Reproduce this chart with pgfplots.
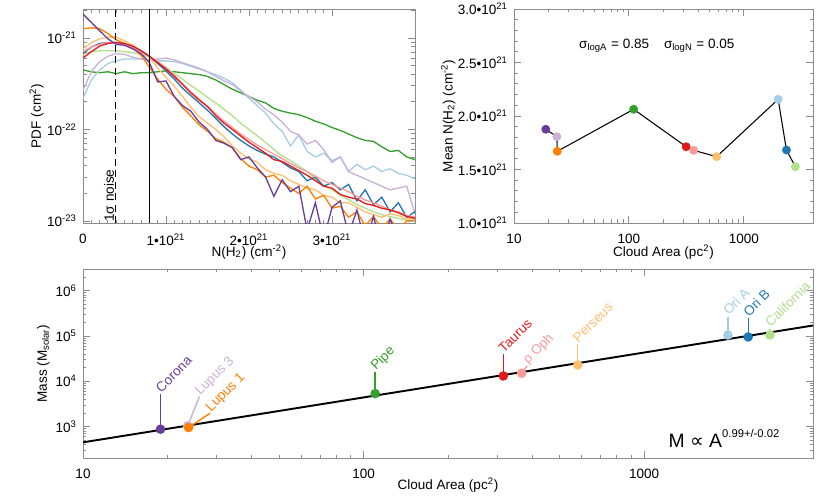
\documentclass[border=0pt]{standalone}
\usepackage{fontspec}
\setmainfont{Liberation Sans}
\newfontfamily\dejavu{DejaVu Sans}
\usepackage{pgfplots}
\usepackage{pgfplotstable}
\pgfplotsset{compat=1.18}

\definecolor{cPur}{HTML}{6A3D9A}
\definecolor{cLav}{HTML}{CAB2D6}
\definecolor{cOra}{HTML}{FF7F00}
\definecolor{cGrn}{HTML}{33A02C}
\definecolor{cRed}{HTML}{E31A1C}
\definecolor{cPnk}{HTML}{FB9A99}
\definecolor{cPch}{HTML}{FDBF6F}
\definecolor{cLbl}{HTML}{A6CEE3}
\definecolor{cBlu}{HTML}{1F78B4}
\definecolor{cLgr}{HTML}{B2DF8A}
\definecolor{framegray}{HTML}{8C8C8C}

\newcommand\fs{\fontsize{7.7}{9}\selectfont}

% column density PDFs, N in units of 1e21 cm^-2
\pgfplotstableread{
N   pur      lav      ora      grn      red      pnk      pch      lbl      blu      lgr
0.0 1.82e-21 2.69e-22 1.26e-21 4.47e-22 6.03e-22 7.08e-22 7.59e-22 2.19e-22 6.76e-22 6.61e-22
0.1 1.48e-21 4.27e-22 1.29e-21 4.27e-22 7.08e-22 7.94e-22 8.91e-22 3.47e-22 7.94e-22 7.08e-22
0.2 1.20e-21 5.50e-22 1.26e-21 4.17e-22 8.13e-22 8.51e-22 9.77e-22 4.47e-22 8.71e-22 7.24e-22
0.3 9.77e-22 6.31e-22 1.12e-21 4.27e-22 8.71e-22 8.91e-22 1.02e-21 5.25e-22 8.91e-22 7.24e-22
0.4 8.51e-22 6.76e-22 9.55e-22 4.07e-22 8.91e-22 8.91e-22 1.02e-21 5.62e-22 8.91e-22 7.24e-22
0.5 8.32e-22 6.61e-22 8.71e-22 4.27e-22 8.71e-22 8.51e-22 9.33e-22 5.89e-22 8.51e-22 7.08e-22
0.6 7.59e-22 6.17e-22 7.76e-22 4.07e-22 8.13e-22 7.94e-22 8.32e-22 5.89e-22 7.94e-22 6.92e-22
0.7 6.76e-22 5.89e-22 6.46e-22 4.17e-22 7.24e-22 7.08e-22 7.24e-22 5.89e-22 7.24e-22 6.61e-22
0.8 5.37e-22 5.75e-22 4.79e-22 4.17e-22 6.31e-22 6.31e-22 6.17e-22 5.75e-22 6.31e-22 6.17e-22
0.9 3.31e-22 5.89e-22 3.55e-22 4.27e-22 5.37e-22 5.50e-22 4.68e-22 5.62e-22 5.25e-22 5.50e-22
1.0 3.39e-22 6.03e-22 2.75e-22 4.37e-22 4.57e-22 4.68e-22 3.72e-22 5.62e-22 4.37e-22 4.79e-22
1.1 2.29e-22 5.75e-22 2.29e-22 4.27e-22 3.80e-22 3.89e-22 2.95e-22 5.50e-22 3.55e-22 4.07e-22
1.2 1.82e-22 5.37e-22 1.74e-22 4.17e-22 3.09e-22 3.16e-22 2.29e-22 5.25e-22 2.82e-22 3.55e-22
1.3 1.58e-22 5.01e-22 1.41e-22 4.07e-22 2.51e-22 2.57e-22 1.74e-22 4.90e-22 2.34e-22 3.02e-22
1.4 1.20e-22 4.68e-22 1.12e-22 3.98e-22 2.09e-22 2.14e-22 1.38e-22 4.57e-22 1.95e-22 2.63e-22
1.5 1.00e-22 4.27e-22 9.55e-23 3.80e-22 1.78e-22 1.78e-22 1.17e-22 4.27e-22 1.62e-22 2.24e-22
1.6 7.59e-23 3.80e-22 7.94e-23 3.47e-22 1.41e-22 1.48e-22 1.00e-22 3.98e-22 1.32e-22 1.95e-22
1.7 7.08e-23 3.39e-22 7.24e-23 3.09e-22 1.17e-22 1.23e-22 8.32e-23 3.63e-22 1.07e-22 1.66e-22
1.8 6.31e-23 3.09e-22 6.31e-23 2.75e-22 1.00e-22 1.05e-22 6.61e-23 3.24e-22 8.91e-23 1.41e-22
1.9 4.68e-23 2.63e-22 4.79e-23 2.51e-22 8.51e-23 8.91e-23 5.50e-23 2.69e-22 7.59e-23 1.17e-22
2.0 5.01e-23 2.29e-22 3.98e-23 2.29e-22 7.24e-23 7.76e-23 4.79e-23 2.19e-22 6.61e-23 1.00e-22
2.1 3.80e-23 2.00e-22 3.63e-23 2.09e-22 6.31e-23 6.76e-23 4.37e-23 1.82e-22 5.89e-23 8.51e-23
2.2 3.02e-23 1.66e-22 3.02e-23 1.95e-22 5.50e-23 6.03e-23 3.63e-23 1.51e-22 5.37e-23 7.24e-23
2.3 1.86e-23 1.45e-22 3.16e-23 1.70e-22 4.68e-23 5.37e-23 3.31e-23 1.15e-22 5.01e-23 6.03e-23
2.4 2.82e-23 1.20e-22 2.63e-23 1.58e-22 4.47e-23 4.79e-23 3.16e-23 9.55e-23 4.37e-23 5.13e-23
2.5 2.09e-23 9.55e-23 2.29e-23 1.51e-22 3.98e-23 4.27e-23 2.75e-23 6.61e-23 3.80e-23 4.57e-23
2.6 2.40e-23 8.71e-23 2.00e-23 1.45e-22 3.55e-23 3.80e-23 2.51e-23 8.71e-23 3.47e-23 3.98e-23
2.7 7.94e-24 6.92e-23 2.40e-23 1.35e-22 3.16e-23 3.47e-23 2.29e-23 5.75e-23 2.75e-23 3.47e-23
2.8 1.58e-23 7.59e-23 1.74e-23 1.23e-22 2.75e-23 3.09e-23 2.19e-23 5.01e-23 3.02e-23 2.88e-23
2.9 6.31e-24 6.03e-23 1.91e-23 1.15e-22 2.40e-23 2.75e-23 1.91e-23 5.50e-23 2.40e-23 2.45e-23
3.0 1.41e-23 4.37e-23 1.38e-23 1.05e-22 2.29e-23 2.51e-23 1.82e-23 4.57e-23 2.63e-23 2.19e-23
3.1 1.66e-23 5.01e-23 1.45e-23 9.77e-23 1.95e-23 2.29e-23 1.58e-23 5.01e-23 2.19e-23 1.91e-23
3.2 7.08e-24 3.47e-23 1.10e-23 8.91e-23 1.82e-23 2.09e-23 1.58e-23 3.47e-23 2.51e-23 1.70e-23
3.3 1.32e-23 3.16e-23 1.26e-23 8.13e-23 1.74e-23 1.86e-23 1.41e-23 4.17e-23 1.66e-23 1.51e-23
3.4 5.62e-24 2.88e-23 8.91e-24 7.59e-23 1.55e-23 1.70e-23 1.26e-23 3.63e-23 2.19e-23 1.38e-23
3.5 1.12e-23 2.63e-23 1.12e-23 7.41e-23 1.48e-23 1.58e-23 1.17e-23 3.98e-23 1.51e-23 1.26e-23
3.6 5.01e-24 2.40e-23 8.32e-24 6.46e-23 1.38e-23 1.45e-23 1.10e-23 3.47e-23 1.82e-23 1.17e-23
3.7 1.05e-23 2.19e-23 1.05e-23 5.75e-23 1.32e-23 1.32e-23 1.20e-23 3.72e-23 1.26e-23 1.12e-23
3.8 6.31e-24 2.29e-23 7.94e-24 5.89e-23 1.23e-23 1.26e-23 1.15e-23 3.31e-23 1.58e-23 1.07e-23
3.9 8.91e-24 2.40e-23 1.00e-23 5.01e-23 1.12e-23 1.15e-23 1.05e-23 3.16e-23 1.10e-23 1.02e-23
4.0 5.01e-24 1.20e-23 1.02e-23 4.68e-23 1.07e-23 1.10e-23 1.07e-23 2.88e-23 1.26e-23 9.77e-24
}\pdftab

% cloud area (pc^2), mean N(H2) (1e21 cm^-2), mass (Msun)
\pgfplotstableread{
A    N     M
18.9 1.876 877
23.6 1.807 1035
23.8 1.670 955
110  2.063 5350
315  1.713 13100
366  1.679 15000
580  1.620 22900
1990 2.156 105000
2350 1.682 95000
2810 1.526 105000
}\cloudtab

\pgfplotsset{
  idl/.style={
    scale only axis,
    axis line style={draw=framegray, line width=0.5pt},
    tick style={draw=framegray, line width=0.5pt},
    tick align=inside,
    major tick length=0.14cm,
    minor tick length=0.07cm,
    tick label style={font=\fs},
    label style={font=\fs},
    xticklabel style={yshift=-2.6pt},
  },
  xlab/.style={xlabel style={at={([yshift=-#1]axis description cs:0.5,0)}, anchor=center}},
  ylab/.style={ylabel style={at={([xshift=-#1]axis description cs:0,0.5)}, anchor=center}},
  pt/.style={only marks, mark=*, mark size=2.3pt, mark options={draw=#1, fill=#1}},
}

\begin{document}
\begin{tikzpicture}
\path[use as bounding box] (0,0) rectangle (16.6,9.96);

% ---- column density PDFs
\begin{axis}[idl, at={(1.66cm,5.50cm)}, anchor=south west,
  width=6.64cm, height=4.28cm,
  xmin=0, xmax=4, ymode=log, ymin=9.5e-24, ymax=2.07e-21,
  xtick={0,1,2,3},
  xticklabels={0,1\textbullet10\textsuperscript{21},2\textbullet10\textsuperscript{21},3\textbullet10\textsuperscript{21}},
  minor x tick num=9,
  ytick={1e-23,1e-22,1e-21},
  minor ytick={2e-23,3e-23,4e-23,5e-23,6e-23,7e-23,8e-23,9e-23,2e-22,3e-22,4e-22,5e-22,6e-22,7e-22,8e-22,9e-22,2e-21},
  yticklabels={10\textsuperscript{-23},10\textsuperscript{-22},10\textsuperscript{-21}},
  xlabel={N(H\textsubscript{2}) (cm\textsuperscript{-2})},
  ylabel={PDF (cm\textsuperscript{2})},
  xlab=16.3pt, ylab=26.4pt,
  every axis plot/.append style={line width=0.75pt},
]
\addplot[cGrn] table[x=N, y=grn] {\pdftab};
\addplot[cLbl] table[x=N, y=lbl] {\pdftab};
\addplot[cLav] table[x=N, y=lav] {\pdftab};
\addplot[cLgr] table[x=N, y=lgr] {\pdftab};
\addplot[cPch] table[x=N, y=pch] {\pdftab};
\addplot[cOra] table[x=N, y=ora] {\pdftab};
\addplot[cBlu] table[x=N, y=blu] {\pdftab};
\addplot[cPnk] table[x=N, y=pnk] {\pdftab};
\addplot[cRed] table[x=N, y=red] {\pdftab};
\addplot[cPur] table[x=N, y=pur] {\pdftab};
\addplot[black, line width=0.9pt, dash pattern=on 4pt off 2.5pt] coordinates {(0.39,9.5e-24) (0.39,2.07e-21)};
\addplot[black, line width=0.75pt] coordinates {(0.8,9.5e-24) (0.8,2.07e-21)};
\node[rotate=90, anchor=south west, inner sep=0.6pt, font=\fs] at (axis cs:0.39,9.5e-24) {1σ noise};
\end{axis}

% ---- mean column density vs area
\begin{axis}[idl, at={(10.28cm,5.50cm)}, anchor=south west,
  width=5.98cm, height=4.28cm,
  xmode=log, xmin=10, xmax=4000, ymin=1, ymax=3,
  xtick={10,100,1000}, xticklabels={10,100,1000},
  ytick={1,1.5,2,2.5,3},
  yticklabels={1.0\textbullet10\textsuperscript{21},1.5\textbullet10\textsuperscript{21},2.0\textbullet10\textsuperscript{21},2.5\textbullet10\textsuperscript{21},3.0\textbullet10\textsuperscript{21}},
  minor y tick num=4,
  xlabel={Cloud Area (pc\textsuperscript{2})},
  ylabel={Mean N(H\textsubscript{2}) (cm\textsuperscript{-2})},
  xlab=16.3pt, ylab=37.4pt,
]
\addplot[black, line width=0.6pt] table[x=A, y=N] {\cloudtab};
\addplot[pt=cPur] coordinates {(18.9,1.876)};
\addplot[pt=cLav] coordinates {(23.6,1.807)};
\addplot[pt=cOra] coordinates {(23.8,1.670)};
\addplot[pt=cGrn] coordinates {(110,2.063)};
\addplot[pt=cRed] coordinates {(315,1.713)};
\addplot[pt=cPnk] coordinates {(366,1.679)};
\addplot[pt=cPch] coordinates {(580,1.620)};
\addplot[pt=cLbl] coordinates {(1990,2.156)};
\addplot[pt=cBlu] coordinates {(2350,1.682)};
\addplot[pt=cLgr] coordinates {(2810,1.526)};
\node[font=\fs] at (axis cs:175,2.66) {σ\textsubscript{logA} = 0.85\hspace{1.1em}σ\textsubscript{logN} = 0.05};
\end{axis}

% ---- mass vs area
\begin{axis}[idl, at={(1.66cm,0.794cm)}, anchor=south west,
  width=14.60cm, height=3.786cm,
  xmode=log, ymode=log, xmin=10, xmax=4000, ymin=200, ymax=3e6,
  xtick={10,100,1000}, xticklabels={10,100,1000},
  ytick={1e3,1e4,1e5,1e6},
  minor ytick={300,400,500,600,700,800,900,2e3,3e3,4e3,5e3,6e3,7e3,8e3,9e3,2e4,3e4,4e4,5e4,6e4,7e4,8e4,9e4,2e5,3e5,4e5,5e5,6e5,7e5,8e5,9e5,2e6},
  yticklabels={10\textsuperscript{3},10\textsuperscript{4},10\textsuperscript{5},10\textsuperscript{6}},
  xlabel={Cloud Area (pc\textsuperscript{2})},
  ylabel={Mass (M\textsubscript{solar})},
  xlab=15.2pt, ylab=22.6pt,
  every axis plot/.append style={line width=0.8pt},
]
\addplot[black, line width=1.1pt] coordinates {(10,450) (4000,170000)};
\addplot[cPur] coordinates {(18.9,877) (18.9,5270)};
\addplot[cLav] coordinates {(23.6,1035) (26.0,4590)};
\addplot[cOra] coordinates {(23.8,955) (28.4,1980)};
\addplot[cGrn] coordinates {(110,5350) (110,16400)};
\addplot[cRed] coordinates {(315,13100) (315,39600)};
\addplot[cPnk] coordinates {(366,15000) (383,21900)};
\addplot[cPch] coordinates {(580,22900) (580,65900)};
\addplot[cLbl] coordinates {(1990,105000) (1990,268000)};
\addplot[cBlu] coordinates {(2350,95000) (2350,247000)};
\addplot[cLgr] coordinates {(2810,105000) (2810,144000)};
\addplot[pt=cPur] coordinates {(18.9,877)};
\addplot[pt=cLav] coordinates {(23.6,1035)};
\addplot[pt=cOra] coordinates {(23.8,955)};
\addplot[pt=cGrn] coordinates {(110,5350)};
\addplot[pt=cRed] coordinates {(315,13100)};
\addplot[pt=cPnk] coordinates {(366,15000)};
\addplot[pt=cPch] coordinates {(580,22900)};
\addplot[pt=cLbl] coordinates {(1990,105000)};
\addplot[pt=cBlu] coordinates {(2350,95000)};
\addplot[pt=cLgr] coordinates {(2810,105000)};
\begin{scope}[every node/.style={rotate=45, anchor=base west, inner sep=0.5pt, font=\fs}]
\node[text=cPur] at (axis cs:18.9,5270) {Corona};
\node[text=cLav] at (axis cs:26.0,4590) {Lupus 3};
\node[text=cOra] at (axis cs:28.4,1980) {Lupus 1};
\node[text=cGrn] at (axis cs:110,16400) {Pipe};
\node[text=cRed] at (axis cs:315,39600) {Taurus};
\node[text=cPnk] at (axis cs:383,21900) {ρ Oph};
\node[text=cPch] at (axis cs:580,65900) {Perseus};
\node[text=cLbl] at (axis cs:1990,268000) {Ori A};
\node[text=cBlu] at (axis cs:2350,247000) {Ori B};
\node[text=cLgr] at (axis cs:2810,144000) {California};
\end{scope}
\node[anchor=base west, inner sep=0pt, font=\fontsize{11}{13}\selectfont] at (axis cs:1219,339)
  {M {\dejavu ∝} A\raisebox{0.55em}{\fontsize{6.4}{7}\selectfont 0.99+/-0.02}};
\end{axis}
\end{tikzpicture}
\end{document}
